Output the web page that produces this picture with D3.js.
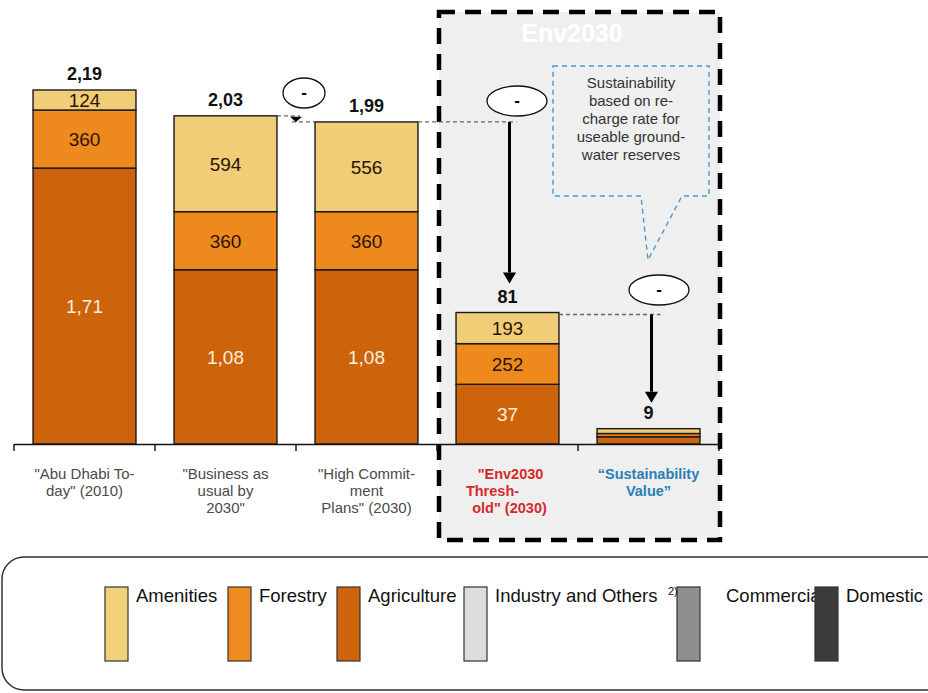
<!DOCTYPE html>
<html>
<head>
<meta charset="utf-8">
<script src="https://cdn.jsdelivr.net/npm/d3@7"></script>
<style>
  html, body { margin: 0; padding: 0; background: #fff; }
  svg { display: block; font-family: "Liberation Sans", Arial, sans-serif; }
</style>
</head>
<body>
<div id="chart"></div>
<script>
// Water demand scenarios (million m³), stacked by use.
const categories = ["today", "bau", "high", "env", "sust"];
const agriculture = [1710, 1080, 1080, 370, 45];
const forestry = [360, 360, 360, 252, 20];
const amenities = [124, 594, 556, 193, 30];
const agricultureLabels = ["1,71", "1,08", "1,08", "37", ""];
const forestryLabels = ["360", "360", "360", "252", ""];
const amenitiesLabels = ["124", "594", "556", "193", ""];
const totalLabels = ["2,19", "2,03", "1,99", "81", "9"];
const categoryLines = [
  ["\"Abu Dhabi To-", "day\" (2010)"],
  ["\"Business as", "usual by", "2030\""],
  ["\"High Commit-", "ment", "Plans\" (2030)"],
  ["\"Env2030", "Thresh-", "old\" (2030)"],
  ["\u201cSustainability", "Value\u201d"]
];
const legendNames = ["Amenities", "Forestry", "Agriculture", "Industry and Others", "Commercial", "Domestic"];
const bubbleLines = ["Sustainability", "based on re-", "charge rate for", "useable ground-", "water reserves"];

const W = 928, H = 693;
const colors = { amenities: "#f1cd78", forestry: "#ee8a1d", agriculture: "#cd630b" };
const legendColors = ["#f1d27a", "#ef8b1e", "#cf640c", "#dcdcdc", "#8f8f8f", "#3b3b3b"];

const svg = d3.select("#chart").append("svg").attr("width", W).attr("height", H);

const x = d3.scaleBand(categories, [14, 719]).paddingInner(0.27).paddingOuter(0.135);
const y = d3.scaleLinear([0, 2194], [444, 90]);

// Env2030 panel
svg.append("rect")
  .attr("x", 439).attr("y", 12).attr("width", 281).attr("height", 528)
  .attr("fill", "#efefef").attr("stroke", "#000")
  .attr("stroke-width", 4.5).attr("stroke-dasharray", "16,10");
svg.append("text")
  .attr("x", 572).attr("y", 42).attr("text-anchor", "middle")
  .attr("fill", "#fff").attr("font-size", 25).attr("font-weight", "bold")
  .text("Env2030");

// stacked bars
const keys = ["agriculture", "forestry", "amenities"];
const rows = categories.map((c, i) => ({ c, agriculture: agriculture[i], forestry: forestry[i], amenities: amenities[i] }));
const series = d3.stack().keys(keys)(rows);
const segLabels = { agriculture: agricultureLabels, forestry: forestryLabels, amenities: amenitiesLabels };

series.forEach((s) => {
  const g = svg.append("g");
  g.selectAll("rect").data(s).join("rect")
    .attr("x", (d) => x(d.data.c))
    .attr("y", (d) => y(d[1]))
    .attr("width", x.bandwidth())
    .attr("height", (d) => y(d[0]) - y(d[1]))
    .attr("fill", colors[s.key])
    .attr("stroke", "#1a1a1a").attr("stroke-width", 1.4);
  g.selectAll("text").data(s).join("text")
    .attr("x", (d) => x(d.data.c) + x.bandwidth() / 2)
    .attr("y", (d) => (y(d[0]) + y(d[1])) / 2 + 7)
    .attr("text-anchor", "middle")
    .attr("font-size", 19)
    .attr("fill", s.key === "agriculture" ? "#fbf0dc" : "#2a1505")
    .text((d, i) => segLabels[s.key][i]);
});

const totals = categories.map((c, i) => agriculture[i] + forestry[i] + amenities[i]);
svg.append("g").selectAll("text").data(categories).join("text")
  .attr("x", (c) => x(c) + x.bandwidth() / 2)
  .attr("y", (c, i) => y(totals[i]) - 10)
  .attr("text-anchor", "middle")
  .attr("font-size", 18).attr("font-weight", "bold").attr("fill", "#111")
  .text((c, i) => totalLabels[i]);

// axis
const step = x.step();
const ticks = d3.range(categories.length + 1).map((i) => 14 + i * step);
const axis = svg.append("g").attr("stroke", "#111").attr("stroke-width", 1.4);
axis.append("line").attr("x1", 14).attr("x2", 719).attr("y1", 444.5).attr("y2", 444.5);
axis.selectAll("line.tick").data(ticks).join("line").attr("class", "tick")
  .attr("x1", (d) => d).attr("x2", (d) => d).attr("y1", 444).attr("y2", 451);

// category labels
const catColors = ["#4a4a4a", "#4a4a4a", "#4a4a4a", "#d42a2a", "#2a7fb5"];
const lineShift = [[0, 0, 0], [0, 0, 0], [0, 0, 0], [3, -15, 2], [0, 0, 0]];
categories.forEach((c, i) => {
  const cx = x(c) + x.bandwidth() / 2;
  const t = svg.append("text")
    .attr("x", cx).attr("y", 479)
    .attr("text-anchor", "middle").attr("font-size", i >= 3 ? 14.5 : 15)
    .attr("font-weight", i >= 3 ? "bold" : "normal")
    .attr("fill", catColors[i]);
  categoryLines[i].forEach((line, k) => {
    t.append("tspan").attr("x", cx + lineShift[i][k]).attr("dy", k === 0 ? 0 : 17).text(line);
  });
});

// connectors and arrows
const dash = (x1, y1, x2, y2) => svg.append("line")
  .attr("x1", x1).attr("y1", y1).attr("x2", x2).attr("y2", y2)
  .attr("stroke", "#666").attr("stroke-width", 1.3).attr("stroke-dasharray", "4,3");
const ellipse = (cx, cy, rx, ry) => {
  svg.append("ellipse").attr("cx", cx).attr("cy", cy).attr("rx", rx).attr("ry", ry)
    .attr("fill", "#fff").attr("stroke", "#111").attr("stroke-width", 1.3);
  svg.append("text").attr("x", cx).attr("y", cy + 5).attr("text-anchor", "middle")
    .attr("font-size", 17).attr("font-weight", "bold").text("-");
};
const arrow = (ax, y1, y2, w, head) => {
  svg.append("line").attr("x1", ax).attr("x2", ax).attr("y1", y1).attr("y2", y2 - head)
    .attr("stroke", "#000").attr("stroke-width", w);
  svg.append("path")
    .attr("d", `M${ax - head * 0.6},${y2 - head}L${ax + head * 0.6},${y2 - head}L${ax},${y2}Z`)
    .attr("fill", "#000");
};

const b = (i) => x(categories[i]);
// business as usual -> high commitment
dash(b(1) + x.bandwidth(), y(totals[1]), ticks[2] + 4, y(totals[1]));
dash(ticks[2] - 4, y(totals[2]), b(2), y(totals[2]));
svg.append("path")
  .attr("d", `M${ticks[2] - 6},${y(totals[1]) + 1}L${ticks[2] + 6},${y(totals[1]) + 1}L${ticks[2]},${y(totals[2])}Z`)
  .attr("fill", "#000");
ellipse(304, 93, 21, 15);

// high commitment -> Env2030 threshold
const a2 = b(3) + x.bandwidth() / 2 + 2;
dash(b(2) + x.bandwidth(), y(totals[2]), a2 + 7, y(totals[2]));
arrow(a2, y(totals[2]), y(totals[3]) - 29, 3, 11);
ellipse(517, 101, 30, 15);

// threshold -> sustainability value
const a3 = b(4) + x.bandwidth() / 2 + 3;
dash(b(3) + x.bandwidth(), y(totals[3]) + 2, a3 + 9, y(totals[3]) + 2);
arrow(a3, y(totals[3]) + 2, y(totals[4]) - 26, 3, 11);
ellipse(659, 290, 30, 15);

// speech bubble
svg.append("path")
  .attr("d", "M553,66L709,66L709,196L682,196L648,260L641,196L553,196Z")
  .attr("fill", "none").attr("stroke", "#4a9ccb").attr("stroke-width", 1.4)
  .attr("stroke-dasharray", "5,4");
svg.append("g").selectAll("text").data(bubbleLines).join("text")
  .attr("x", 631).attr("y", (d, i) => 88 + i * 18)
  .attr("text-anchor", "middle").attr("font-size", 15).attr("fill", "#333")
  .text((d) => d);

// legend
svg.append("rect").attr("x", 2).attr("y", 557).attr("width", 960).attr("height", 133)
  .attr("rx", 22).attr("fill", "#fff").attr("stroke", "#333").attr("stroke-width", 1.5);
const legendX = [105, 228, 337, 464, 677, 815];
const legend = svg.append("g").selectAll("g").data(legendNames).join("g")
  .attr("transform", (d, i) => `translate(${legendX[i]},587)`);
legend.append("rect").attr("width", 23).attr("height", 74)
  .attr("fill", (d, i) => legendColors[i]).attr("stroke", "#333").attr("stroke-width", 1.2);
legend.append("text").attr("x", (d, i) => (i === 4 ? 49 : 31)).attr("y", 15)
  .attr("font-size", 18.5).attr("fill", "#111").text((d) => d);
svg.append("text").attr("x", 668).attr("y", 595).attr("font-size", 11).attr("fill", "#111").text("2)");
</script>
</body>
</html>
